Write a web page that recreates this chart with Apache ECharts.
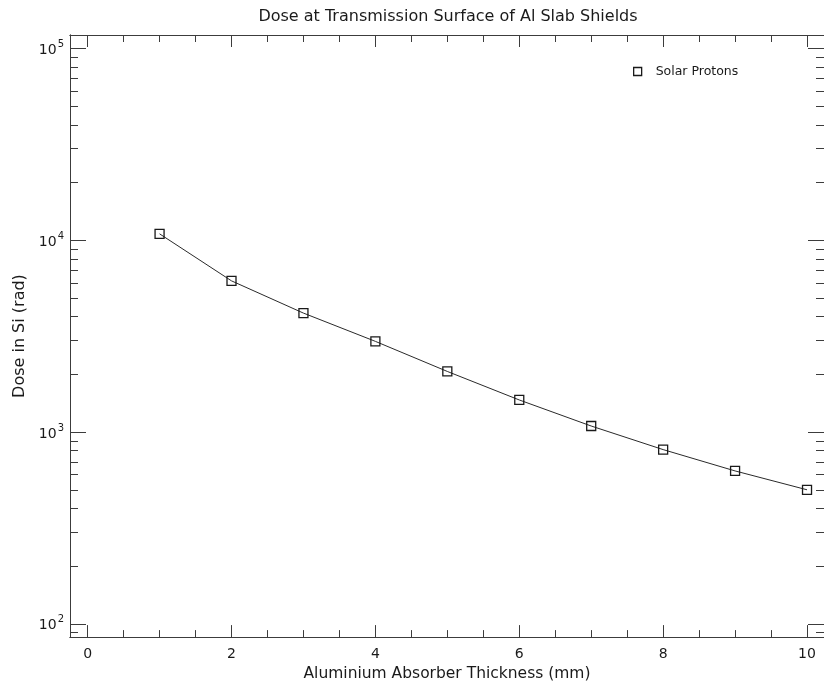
<!DOCTYPE html>
<html>
<head>
<meta charset="utf-8">
<script src="https://cdn.jsdelivr.net/npm/echarts@6/dist/echarts.min.js"></script>
<style>
  html, body { margin: 0; padding: 0; background: #fff; }
  #chart { width: 824px; height: 687px; }
</style>
</head>
<body>
<div id="chart"></div>
<script>
// Aluminium absorber thickness (mm)
const thickness = [1, 2, 3, 4, 5, 6, 7, 8, 9, 10];
// Dose in Si (rad) behind each slab, solar protons
const solarProtonDose = [10800, 6140, 4170, 2970, 2070, 1470, 1075, 810, 627, 500];

// Labelled tick positions
const xMajorTicks = [0, 2, 4, 6, 8, 10];
const yMajorTicks = [100, 1000, 10000, 100000];

// Unlabelled ticks: every 0.5 mm between the labelled ones, and 2..9 within each decade
const xMinorTicks = [];
for (let v = 0.5; v < 10; v += 0.5) {
  if (v % 2 !== 0) xMinorTicks.push(v);
}
const yMinorTicks = [90];
[100, 1000, 10000].forEach(function (d) {
  for (let m = 2; m <= 9; m++) yMinorTicks.push(m * d);
});

const FONT = 'DejaVu Sans';
const INK = '#1a1a1a';
const FRAME = '#3c3c3c';

const X_MIN = -0.245, X_MAX = 10.236;
const Y_MIN = 85.3, Y_MAX = 117500;

function xAxisDef(position, ticks, len, withLabels) {
  return {
    type: 'value',
    position: position,
    min: X_MIN,
    max: X_MAX,
    axisLine: { show: true, onZero: false, lineStyle: { color: FRAME, width: 1 } },
    axisTick: { show: true, inside: true, length: len, customValues: ticks,
                lineStyle: { color: FRAME, width: 1 } },
    axisLabel: withLabels ? {
      show: true, customValues: xMajorTicks, margin: 10,
      fontFamily: FONT, fontSize: 14, color: INK
    } : { show: false },
    splitLine: { show: false },
    minorTick: { show: false }
  };
}

function yAxisDef(position, ticks, len, withLabels) {
  return {
    type: 'log',
    logBase: 10,
    position: position,
    min: Y_MIN,
    max: Y_MAX,
    axisLine: { show: true, onZero: false, lineStyle: { color: FRAME, width: 1 } },
    axisTick: { show: true, inside: true, length: len, customValues: ticks,
                lineStyle: { color: FRAME, width: 1 } },
    axisLabel: withLabels ? {
      show: true, customValues: yMajorTicks, margin: 6,
      formatter: function (v) {
        return '{b|10}{s|' + Math.round(Math.log10(v)) + '}';
      },
      rich: {
        b: { fontFamily: FONT, fontSize: 14, color: INK, lineHeight: 18, verticalAlign: 'bottom' },
        s: { fontFamily: FONT, fontSize: 10, color: INK, lineHeight: 18, verticalAlign: 'top', padding: [0, 0, 7, 1] }
      }
    } : { show: false },
    splitLine: { show: false },
    minorTick: { show: false }
  };
}

const xAxes = [
  xAxisDef('bottom', xMajorTicks, 12, true),
  xAxisDef('bottom', xMinorTicks, 7, false),
  xAxisDef('top', xMajorTicks, 12, false),
  xAxisDef('top', xMinorTicks, 7, false)
];
xAxes[0].name = 'Aluminium Absorber Thickness (mm)';
xAxes[0].nameLocation = 'middle';
xAxes[0].nameGap = 27;
xAxes[0].nameTextStyle = { fontFamily: FONT, fontSize: 15.5, color: INK };

const yAxes = [
  yAxisDef('left', yMajorTicks, 16, true),
  yAxisDef('left', yMinorTicks, 8, false),
  yAxisDef('right', yMajorTicks, 16, false),
  yAxisDef('right', yMinorTicks, 8, false)
];
yAxes[0].name = 'Dose in Si (rad)';
yAxes[0].nameLocation = 'middle';
yAxes[0].nameRotate = 90;
yAxes[0].nameGap = 30;
yAxes[0].nameTextStyle = { fontFamily: FONT, fontSize: 16, color: INK };

const chart = echarts.init(document.getElementById('chart'), null, { renderer: 'canvas' });

chart.setOption({
  backgroundColor: '#ffffff',
  animation: false,
  title: {
    text: 'Dose at Transmission Surface of Al Slab Shields',
    left: 448,
    top: 9,
    padding: 0,
    textAlign: 'center',
    textStyle: { fontFamily: FONT, fontSize: 16, fontWeight: 'normal', color: INK }
  },
  legend: {
    left: 633,
    top: 65,
    padding: 0,
    icon: 'rect',
    itemWidth: 8,
    itemHeight: 8,
    itemStyle: { color: 'rgba(0,0,0,0)', borderColor: INK, borderWidth: 1.3 },
    formatter: '{t|{name}}',
    textStyle: {
      fontFamily: FONT, fontSize: 12.5, color: INK,
      rich: { t: { fontFamily: FONT, fontSize: 12.5, color: INK, padding: [0, 0, 0, 9] } }
    },
    data: ['Solar Protons']
  },
  grid: { left: 70, top: 35, width: 756, height: 604, containLabel: false },
  xAxis: xAxes,
  yAxis: yAxes,
  series: [{
    name: 'Solar Protons',
    type: 'line',
    xAxisIndex: 0,
    yAxisIndex: 0,
    data: thickness.map(function (t, i) { return [t, solarProtonDose[i]]; }),
    symbol: 'rect',
    symbolSize: 9,
    showAllSymbol: true,
    lineStyle: { color: '#2a2a2a', width: 1 },
    itemStyle: { color: 'rgba(0,0,0,0)', borderColor: INK, borderWidth: 1.3 },
    emphasis: { disabled: true },
    z: 3
  }]
});
</script>
</body>
</html>
